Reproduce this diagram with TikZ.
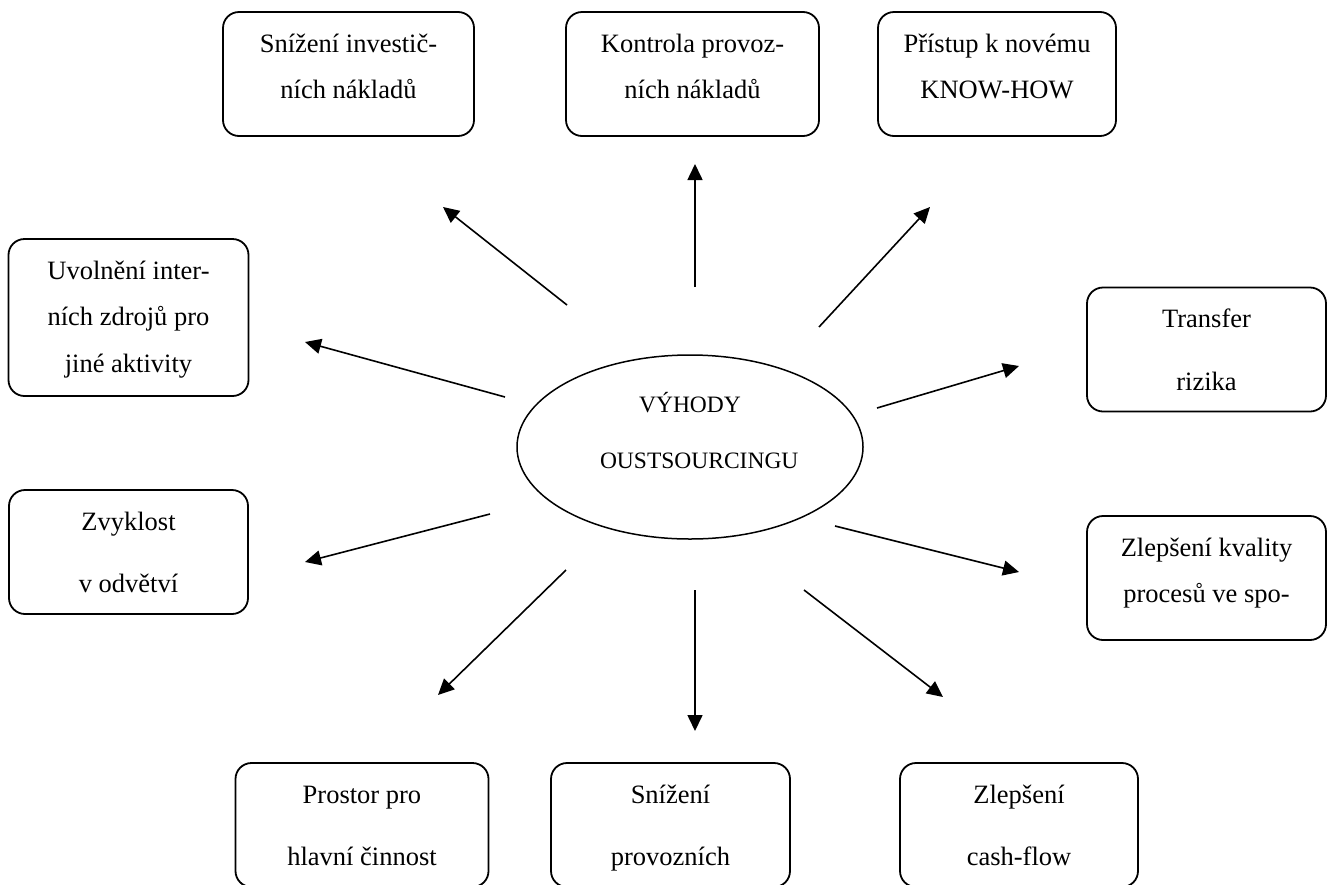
\documentclass[tikz,border=0pt]{standalone}
\usepackage{fontspec}
\setmainfont{Liberation Serif}
\usetikzlibrary{shapes.geometric,arrows.meta}

\begin{document}
\begin{tikzpicture}[x=1pt,y=-1pt,
  box/.style={draw,line width=1.8pt,rounded corners=16pt,align=flush center,inner sep=0pt,
    text height=40pt,text depth=84pt,font=\fontsize{26.5}{46.5}\selectfont},
  wide/.style={font=\fontsize{26.5}{62.5}\selectfont},
  arr/.style={-{Triangle[length=16pt,width=15pt]},line width=1.6pt}]
  \useasboundingbox (0,0) rectangle (1332,884);
  \clip (0,0) rectangle (1332,884);
  % center
  \node[draw,ellipse,line width=1.5pt,minimum width=346pt,minimum height=184pt,inner sep=0pt,
    text width=180pt,align=flush center,text height=25pt,text depth=95pt,
    font=\fontsize{23.5}{56}\selectfont] (vyhody) at (690,447) {VÝHODY\\OUSTSOURCINGU};
  % top row
  \node[box,text width=251pt] (invest) at (348.5,74) {Snížení investič-\\ních nákladů};
  \node[box,text width=253pt] (kontrola) at (692.5,74) {Kontrola provoz-\\ních nákladů};
  \node[box,text width=238pt] (knowhow) at (997,74) {Přístup k novému\\KNOW-HOW};
  % sides
  \node[box,text width=240pt,text depth=117pt] (uvolneni) at (128.5,317.5) {Uvolnění inter-\\ních zdrojů pro\\jiné aktivity};
  \node[box,wide,text width=239pt] (zvyklost) at (128.5,552) {Zvyklost\\v odvětví};
  \node[box,wide,text width=239pt] (transfer) at (1206.5,349.5) {Transfer\\rizika};
  \node[box,text width=239pt] (kvalita) at (1206.5,578) {Zlepšení kvality\\procesů ve spo-};
  % bottom row
  \node[box,wide,text width=253pt] (prostor) at (362,825) {Prostor pro\\hlavní činnost};
  \node[box,wide,text width=239pt] (snizeni) at (670.5,825) {Snížení\\provozních};
  \node[box,wide,text width=238pt] (cashflow) at (1019,825) {Zlepšení\\cash-flow};
  % arrow ends
  \coordinate (t1) at (567,305);  \coordinate (h1) at (443,207);
  \coordinate (t2) at (695,287);  \coordinate (h2) at (695,164);
  \coordinate (t3) at (819,327);  \coordinate (h3) at (930,207);
  \coordinate (t4) at (877,408);  \coordinate (h4) at (1019,366);
  \coordinate (t5) at (505,397);  \coordinate (h5) at (305,342);
  \coordinate (t6) at (490,514);  \coordinate (h6) at (305,562);
  \coordinate (t7) at (835,526);  \coordinate (h7) at (1019,572);
  \coordinate (t8) at (566,570);  \coordinate (h8) at (438,695);
  \coordinate (t9) at (695,590);  \coordinate (h9) at (695,731);
  \coordinate (t10) at (804,590); \coordinate (h10) at (943,697);
  \foreach \i in {1,...,10}
    \draw[arr] (t\i) -- (h\i);
\end{tikzpicture}
\end{document}
